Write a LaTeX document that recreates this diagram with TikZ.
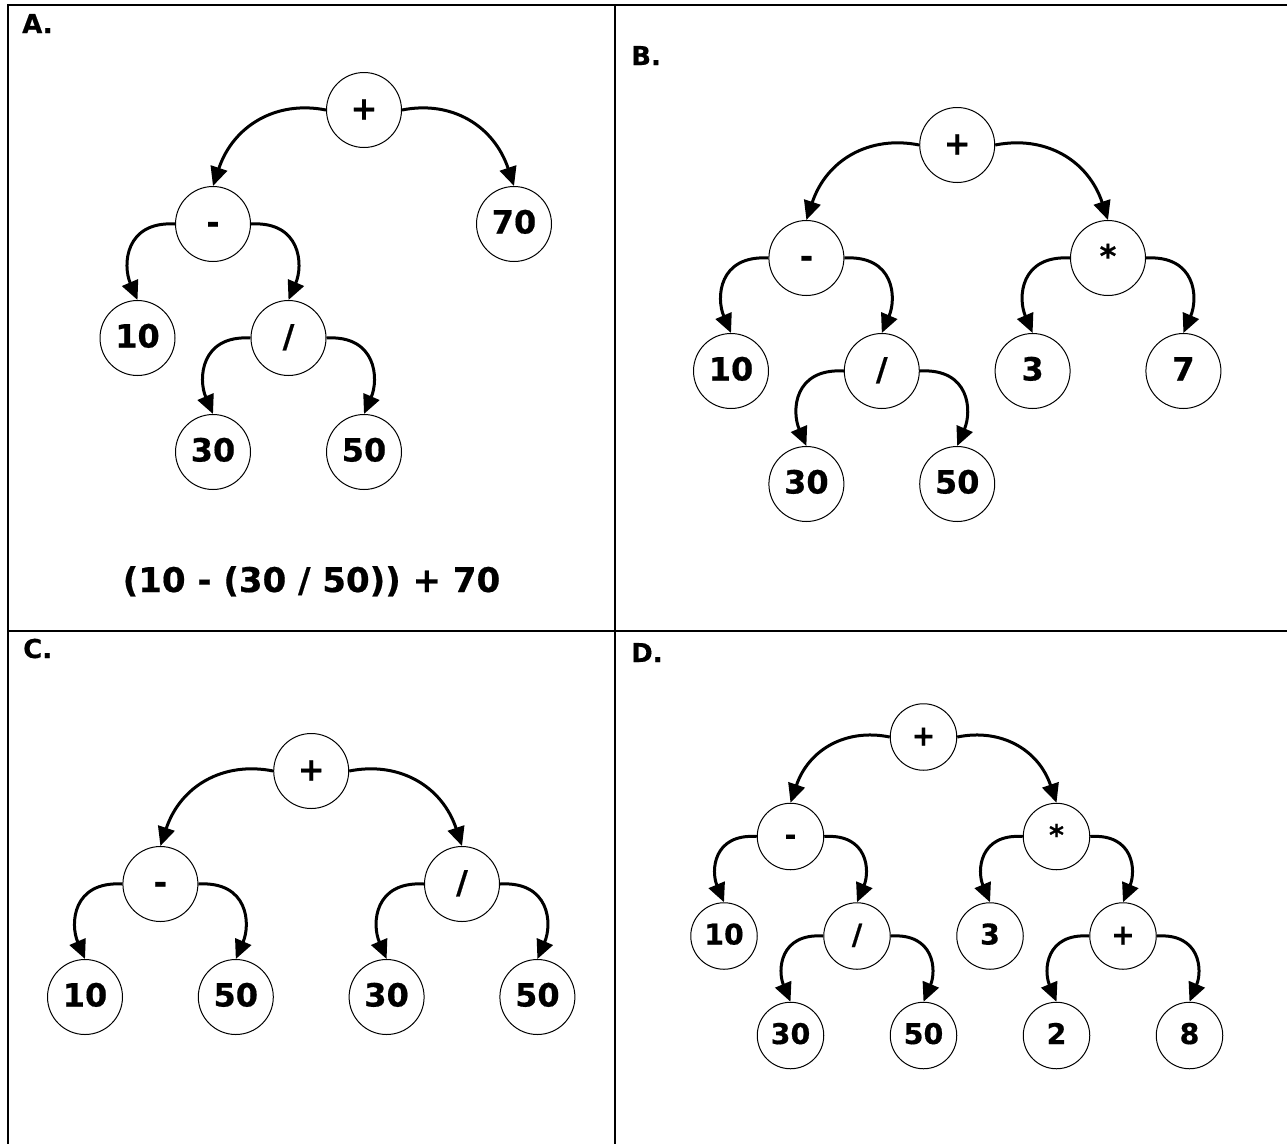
\documentclass[tikz,border=0pt]{standalone}
\usepackage{fontspec}
\setmainfont{DejaVu Sans}[BoldFeatures={FakeBold=0.5}]
\usetikzlibrary{arrows.meta}
\newcommand\treeBL[2]{\draw[edge] (#1.west) .. controls +(-50,-10) and +(20,-60) .. (#2.north);}
\newcommand\treeBR[2]{\draw[edge] (#1.east) .. controls +(50,-10) and +(-20,-60) .. (#2.north);}
\newcommand\treeSL[2]{\draw[edge] (#1.west) .. controls +(-50,-3) and +(-15,-35) .. (#2.north);}
\newcommand\treeSR[2]{\draw[edge] (#1.east) .. controls +(50,-3) and +(15,-35) .. (#2.north);}
\newcommand\treeDBL[2]{\draw[edge] (#1.west) .. controls +(-44,-9) and +(18,-53) .. (#2.north);}
\newcommand\treeDBR[2]{\draw[edge] (#1.east) .. controls +(44,-9) and +(-18,-53) .. (#2.north);}
\newcommand\treeDSL[2]{\draw[edge] (#1.west) .. controls +(-44,-3) and +(-13,-31) .. (#2.north);}
\newcommand\treeDSR[2]{\draw[edge] (#1.east) .. controls +(44,-3) and +(13,-31) .. (#2.north);}
\begin{document}
\begin{tikzpicture}[x=1pt,y=-1pt,
  nd/.style={circle,draw,line width=1pt,minimum size=75pt,inner sep=0pt,text height=23pt,text depth=4pt,font=\fontsize{32}{32}\selectfont\bfseries},
  nds/.style={nd,minimum size=66.5pt,text height=20.5pt,text depth=3.5pt,font=\fontsize{28.5}{28.5}\selectfont\bfseries},
  edge/.style={line width=3pt,-{Triangle[length=19pt,width=17pt]}},
  gridline/.style={line width=2pt},
  lbl/.style={anchor=base west,inner sep=0pt,font=\fontsize{26}{26}\selectfont\bfseries}]
\useasboundingbox (0,0) rectangle (1287,1143);
\clip (0,0) rectangle (1287,1143);
% table lines
\draw[gridline] (7,5) -- (1300,5);
\draw[gridline] (8,4) -- (8,1150);
\draw[gridline] (615,5) -- (615,1150);
\draw[gridline] (8,631) -- (1300,631);
% labels
\node[lbl] (LA) at (22,33) {A.};
\node[lbl] (LB) at (631,65) {B.};
\node[lbl] (LC) at (23,658) {C.};
\node[lbl] (LD) at (631,662) {D.};
% Panel A
\node[nd] (Ap) at (364,110) {+};
\node[nd] (Am) at (213,224) {-};
\node[nd] (A70) at (514,224) {70};
\node[nd] (A10) at (137.5,338) {10};
\node[nd] (Ad) at (288.5,338) {/};
\node[nd] (A30) at (213,452) {30};
\node[nd] (A50) at (364,452) {50};
\treeBL{Ap}{Am}
\treeBR{Ap}{A70}
\treeSL{Am}{A10}
\treeSR{Am}{Ad}
\treeSL{Ad}{A30}
\treeSR{Ad}{A50}
\node[anchor=base,inner sep=0pt,font=\fontsize{34}{34}\selectfont\bfseries] (formula) at (311.5,592) {(10 - (30 / 50)) + 70};
% Panel B
\node[nd] (Bp) at (957.2,145) {+};
\node[nd] (Bm) at (806.4,258) {-};
\node[nd] (Bt) at (1108,258) {*};
\node[nd] (B10) at (731,371) {10};
\node[nd] (Bd) at (881.8,371) {/};
\node[nd] (B3) at (1032.6,371) {3};
\node[nd] (B7) at (1183.4,371) {7};
\node[nd] (B30) at (806.4,484) {30};
\node[nd] (B50) at (957.2,484) {50};
\treeBL{Bp}{Bm}
\treeBR{Bp}{Bt}
\treeSL{Bm}{B10}
\treeSR{Bm}{Bd}
\treeSL{Bt}{B3}
\treeSR{Bt}{B7}
\treeSL{Bd}{B30}
\treeSR{Bd}{B50}
% Panel C
\node[nd] (Cp) at (311.2,771) {+};
\node[nd] (Cm) at (160.4,884) {-};
\node[nd] (Cd) at (462,884) {/};
\node[nd] (C10) at (85,997) {10};
\node[nd] (C50a) at (235.8,997) {50};
\node[nd] (C30) at (386.6,997) {30};
\node[nd] (C50b) at (537.4,997) {50};
\treeBL{Cp}{Cm}
\treeBR{Cp}{Cd}
\treeSL{Cm}{C10}
\treeSR{Cm}{C50a}
\treeSL{Cd}{C30}
\treeSR{Cd}{C50b}
% Panel D
\node[nds] (Dp) at (923.5,737) {+};
\node[nds] (Dm) at (790.5,836.5) {-};
\node[nds] (Dt) at (1056.5,836.5) {*};
\node[nds] (D10) at (724,936) {10};
\node[nds] (Dd) at (857,936) {/};
\node[nds] (D3) at (990,936) {3};
\node[nds] (Dp2) at (1123,936) {+};
\node[nds] (D30) at (790.5,1035.5) {30};
\node[nds] (D50) at (923.5,1035.5) {50};
\node[nds] (D2) at (1056.5,1035.5) {2};
\node[nds] (D8) at (1189.5,1035.5) {8};
\treeDBL{Dp}{Dm}
\treeDBR{Dp}{Dt}
\treeDSL{Dm}{D10}
\treeDSR{Dm}{Dd}
\treeDSL{Dt}{D3}
\treeDSR{Dt}{Dp2}
\treeDSL{Dd}{D30}
\treeDSR{Dd}{D50}
\treeDSL{Dp2}{D2}
\treeDSR{Dp2}{D8}
\end{tikzpicture}
\end{document}
